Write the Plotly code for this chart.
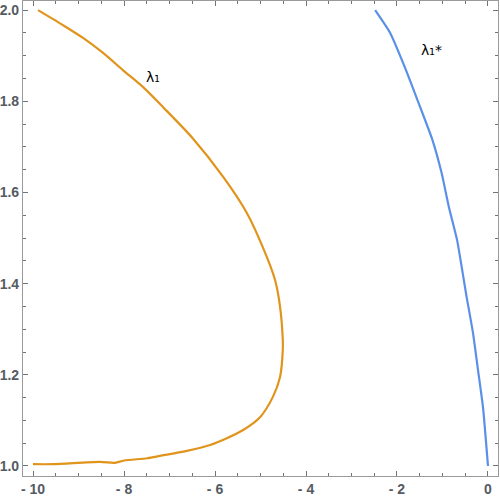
import plotly.graph_objects as go

# orange curve (lambda_1)
lam1_x = [-10.0, -9.56, -8.53, -8.20, -8.00, -7.49, -7.21, -6.62, -6.11, -5.74,
          -5.38, -5.01, -4.73, -4.57, -4.51, -4.51, -4.57, -4.68, -4.95, -5.30,
          -5.82, -6.50, -7.14, -7.58, -8.02, -8.46, -8.90, -9.34, -9.89]
lam1_y = [1.004, 1.004, 1.009, 1.007, 1.012, 1.017, 1.022, 1.033, 1.046, 1.061,
          1.079, 1.107, 1.151, 1.195, 1.254, 1.276, 1.349, 1.408, 1.480, 1.555,
          1.634, 1.720, 1.787, 1.831, 1.868, 1.906, 1.939, 1.967, 2.000]

# blue curve (lambda_1*)
lam1s_x = [-2.48, -2.15, -1.80, -1.49, -1.22, -1.02, -0.86, -0.68, -0.47, -0.33, -0.22, -0.11, 0.0]
lam1s_y = [2.000, 1.950, 1.868, 1.787, 1.715, 1.643, 1.568, 1.496, 1.371, 1.292, 1.211, 1.129, 1.0]

x_ticks = [-10, -8, -6, -4, -2, 0]
x_labels = ["- 10", "- 8", "- 6", "- 4", "- 2", "0"]
y_ticks = [1.0, 1.2, 1.4, 1.6, 1.8, 2.0]
y_labels = ["1.0", "1.2", "1.4", "1.6", "1.8", "2.0"]

fig = go.Figure()
fig.add_trace(go.Scatter(x=lam1_x, y=lam1_y, mode="lines", line=dict(color="#E0941C", width=2.2, shape="spline", smoothing=0.8)))
fig.add_trace(go.Scatter(x=lam1s_x, y=lam1s_y, mode="lines", line=dict(color="#5B90E8", width=2.2, shape="spline", smoothing=0.5)))

fig.add_annotation(x=-7.36, y=1.853, text="λ₁", showarrow=False, font=dict(size=14, color="black", family="DejaVu Sans"))
fig.add_annotation(x=-1.25, y=1.912, text="λ₁*", showarrow=False, font=dict(size=14, color="black", family="DejaVu Sans"))

axis_common = dict(
    showgrid=False, zeroline=False, showline=True, linecolor="#9a9a9a", linewidth=1.2,
    mirror="allticks", ticks="inside", ticklen=5, tickcolor="#6f757b", tickwidth=1,
    tickfont=dict(family="Liberation Sans", size=14, color="#555b62", weight="bold"),
)
fig.update_xaxes(range=[-10.22, 0.22], tickvals=x_ticks, ticktext=x_labels,
                 minor=dict(ticks="inside", ticklen=3, dtick=0.5, tick0=0, tickcolor="#6f757b"),
                 **axis_common)
fig.update_yaxes(range=[0.978, 2.02], tickvals=y_ticks, ticktext=y_labels,
                 minor=dict(ticks="inside", ticklen=3, dtick=0.05, tick0=0, tickcolor="#6f757b"),
                 **axis_common)

fig.update_layout(
    width=500, height=499, showlegend=False,
    plot_bgcolor="white", paper_bgcolor="white",
    margin=dict(l=23, r=2, t=1, b=23),
)

fig.write_html("out.html", config={"displayModeBar": False},
               post_script="document.body.style.margin='0';")
